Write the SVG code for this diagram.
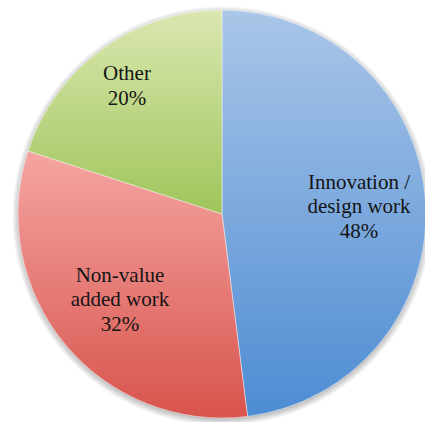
<svg xmlns="http://www.w3.org/2000/svg" width="425" height="422" viewBox="0 0 425 422">
  <defs>
    <linearGradient id="gBlue" x1="0" y1="0" x2="0" y2="1">
      <stop offset="0" stop-color="#aac6e8"/>
      <stop offset="1" stop-color="#4d8cd3"/>
    </linearGradient>
    <linearGradient id="gRed" x1="0" y1="0" x2="0" y2="1">
      <stop offset="0" stop-color="#f5a5a2"/>
      <stop offset="1" stop-color="#d8544d"/>
    </linearGradient>
    <linearGradient id="gGreen" x1="0" y1="0" x2="0" y2="1">
      <stop offset="0" stop-color="#dae7b0"/>
      <stop offset="1" stop-color="#9fc55b"/>
    </linearGradient>
    <radialGradient id="gShadow" cx="222" cy="216" r="210" gradientUnits="userSpaceOnUse">
      <stop offset="0.955" stop-color="#777777" stop-opacity="0.6"/>
      <stop offset="1" stop-color="#777777" stop-opacity="0"/>
    </radialGradient>
  </defs>
  <rect width="425" height="422" fill="#ffffff"/>
  <circle cx="222" cy="216" r="210" fill="url(#gShadow)"/>
  <g id="slice-innovation">
    <path fill="url(#gBlue)" stroke="#ffffff" stroke-opacity="0.45" d="M222,214 L222,10 A204,204 0 0 1 247.57,416.39 Z"/>
    <text x="359" y="189" font-family="Liberation Serif" font-size="21" fill="#151515" text-anchor="middle">Innovation /</text>
    <text x="359" y="213" font-family="Liberation Serif" font-size="21" fill="#151515" text-anchor="middle">design work</text>
    <text x="359" y="238" font-family="Liberation Serif" font-size="21" fill="#151515" text-anchor="middle">48%</text>
  </g>
  <g id="slice-nonvalue">
    <path fill="url(#gRed)" stroke="#ffffff" stroke-opacity="0.45" d="M222,214 L247.57,416.39 A204,204 0 0 1 27.98,150.96 Z"/>
    <text x="120" y="282" font-family="Liberation Serif" font-size="21" fill="#151515" text-anchor="middle">Non-value</text>
    <text x="120" y="306" font-family="Liberation Serif" font-size="21" fill="#151515" text-anchor="middle">added work</text>
    <text x="120" y="331" font-family="Liberation Serif" font-size="21" fill="#151515" text-anchor="middle">32%</text>
  </g>
  <g id="slice-other">
    <path fill="url(#gGreen)" stroke="#ffffff" stroke-opacity="0.45" d="M222,214 L27.98,150.96 A204,204 0 0 1 222,10 Z"/>
    <text x="127" y="80" font-family="Liberation Serif" font-size="21" fill="#151515" text-anchor="middle">Other</text>
    <text x="127" y="105" font-family="Liberation Serif" font-size="21" fill="#151515" text-anchor="middle">20%</text>
  </g>
  <g id="connectors"/>
</svg>
